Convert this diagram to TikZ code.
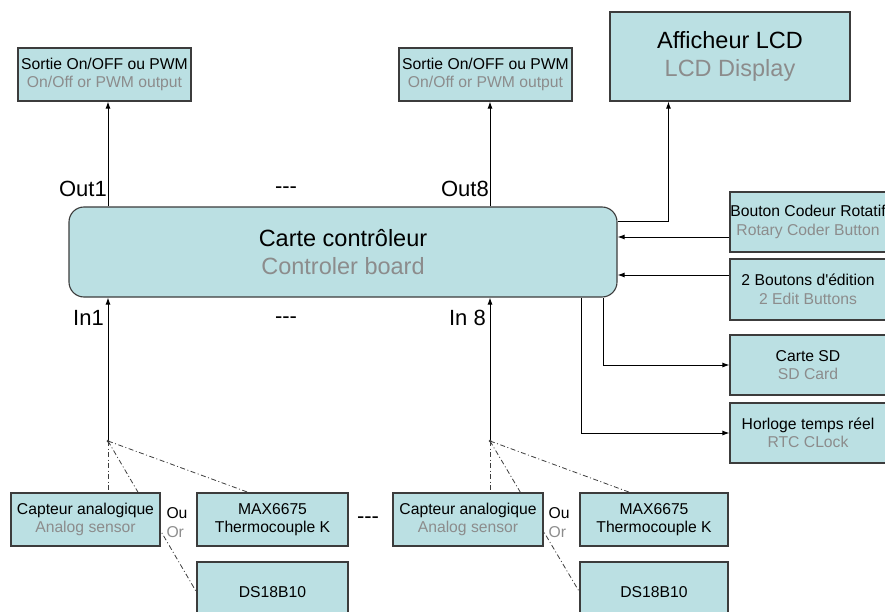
\documentclass[tikz,border=0pt]{standalone}
\usepackage{fontspec}
\setmainfont{Liberation Sans}[Ligatures=TeXOff]
\usetikzlibrary{arrows.meta, backgrounds, calc}

\definecolor{boxfill}{RGB}{187,224,227}
\definecolor{boxline}{RGB}{60,60,60}
\definecolor{subgray}{RGB}{140,140,140}

\begin{document}
\begin{tikzpicture}[
    x=1pt, y=-1pt,
    >={Latex[length=7pt,width=5pt]},
    box/.style={draw=boxline, fill=boxfill, line width=1.1pt, align=center,
        inner sep=0pt, font=\fontsize{15.7}{18.5}\selectfont},
    bigbox/.style={box, font=\fontsize{23.5}{28.5}\selectfont},
    pinlabel/.style={inner sep=0pt, font=\fontsize{22}{26}\selectfont},
    oulabel/.style={inner sep=0pt, align=left, font=\fontsize{15.7}{19}\selectfont},
    wire/.style={->, line width=1pt},
    option/.style={line width=0.8pt, boxline,
        dash pattern=on 5pt off 2.5pt on 1pt off 2.5pt}]

    \useasboundingbox (0,0) rectangle (885,612);

    % controller board
    \node[bigbox, rounded corners=15pt, minimum width=548pt, minimum height=90pt] (cont)
        at (343,252) {Carte contrôleur\\\textcolor{subgray}{Controler board}};

    % outputs
    \node[box, minimum width=173pt, minimum height=53pt] (sortie1) at (104.5,74.5)
        {Sortie On/OFF ou PWM\\\textcolor{subgray}{On/Off or PWM output}};
    \node[box, minimum width=173pt, minimum height=53pt] (sortie8) at (485.5,74.5)
        {Sortie On/OFF ou PWM\\\textcolor{subgray}{On/Off or PWM output}};
    \node[bigbox, minimum width=240pt, minimum height=89pt] (lcd) at (730,56.5)
        {Afficheur LCD\\\textcolor{subgray}{LCD Display}};

    % peripherals on the right
    \node[box, minimum width=156pt, minimum height=60pt] (codeur) at (808,222)
        {Bouton Codeur Rotatif\\\textcolor{subgray}{Rotary Coder Button}};
    \node[box, minimum width=156pt, minimum height=61pt] (boutons) at (808,289.5)
        {2 Boutons d'édition\\\textcolor{subgray}{2 Edit Buttons}};
    \node[box, minimum width=156pt, minimum height=60pt] (sd) at (808,365)
        {Carte SD\\\textcolor{subgray}{SD Card}};
    \node[box, minimum width=156pt, minimum height=60pt] (rtc) at (808,433)
        {Horloge temps réel\\\textcolor{subgray}{RTC CLock}};

    % sensors
    \node[box, minimum width=149pt, minimum height=53pt] (cap1) at (85.5,519.5)
        {Capteur analogique\\\textcolor{subgray}{Analog sensor}};
    \node[box, minimum width=151pt, minimum height=53pt] (max1) at (272.5,519.5)
        {MAX6675\\Thermocouple K};
    \node[box, minimum width=151pt, minimum height=60pt] (ds1) at (272.5,592) {DS18B10};
    \node[box, minimum width=150pt, minimum height=53pt] (cap8) at (468,519.5)
        {Capteur analogique\\\textcolor{subgray}{Analog sensor}};
    \node[box, minimum width=148pt, minimum height=53pt] (max8) at (654,519.5)
        {MAX6675\\Thermocouple K};
    \node[box, minimum width=148pt, minimum height=60pt] (ds8) at (654,592) {DS18B10};

    \node[oulabel] (ou1) at (177,523) {Ou\\\textcolor{subgray}{Or}};
    \node[oulabel] (ou8) at (559,523) {Ou\\\textcolor{subgray}{Or}};

    % pin labels
    \node[pinlabel, anchor=base east] (lout1) at (107,197) {Out1};
    \node[pinlabel, anchor=base east] (lout8) at (489,197) {Out8};
    \node[pinlabel] (dotsout) at (286,190) {{-}{-}{-}};
    \node[pinlabel, anchor=base east] (lin1) at (104,325) {In1};
    \node[pinlabel, anchor=base east] (lin8) at (486,325) {In 8};
    \node[pinlabel] (dotsin) at (286,320) {{-}{-}{-}};
    \node[pinlabel] (dotssens) at (368,520) {{-}{-}{-}};

    % junctions of the inputs
    \coordinate (j1) at (108,441);
    \coordinate (j8) at (490,441);

    % inputs and outputs
    \draw[wire] (j1) -- (cont.south -| j1);
    \draw[wire] (j8) -- (cont.south -| j8);
    \draw[wire] (cont.north -| j1) -- (sortie1.south -| j1);
    \draw[wire] (cont.north -| j8) -- (sortie8.south -| j8);
    \draw[wire] ([yshift=30pt]cont.east) -| ([xshift=59pt]lcd.south west);

    \coordinate (kcod) at ([yshift=-15pt]codeur.west);
    \coordinate (kbtn) at ([yshift=14.5pt]boutons.west);
    \draw[wire] (kcod) -- (kcod -| cont.east);
    \draw[wire] (kbtn) -- (kbtn -| cont.east);
    \draw[wire] ([xshift=-14pt]cont.south east) |- (sd.west);
    \draw[wire] ([xshift=-36pt]cont.south east) |- (rtc.west);

    % sensor choices
    \begin{pgfonlayer}{background}
    \draw[option] (j1) -- (j1 |- cap1.north);
    \draw[option] (j1) -- (ds1.west);
    \draw[option] (j1) -- ([xshift=-24pt]max1.north);
    \draw[option] (j8) -- (j8 |- cap8.north);
    \draw[option] (j8) -- (ds8.west);
    \draw[option] (j8) -- ([xshift=-24pt]max8.north);
    \end{pgfonlayer}
    \fill[boxline] (j1) circle (1.5pt);
    \fill[boxline] (j8) circle (1.5pt);

\end{tikzpicture}
\end{document}
